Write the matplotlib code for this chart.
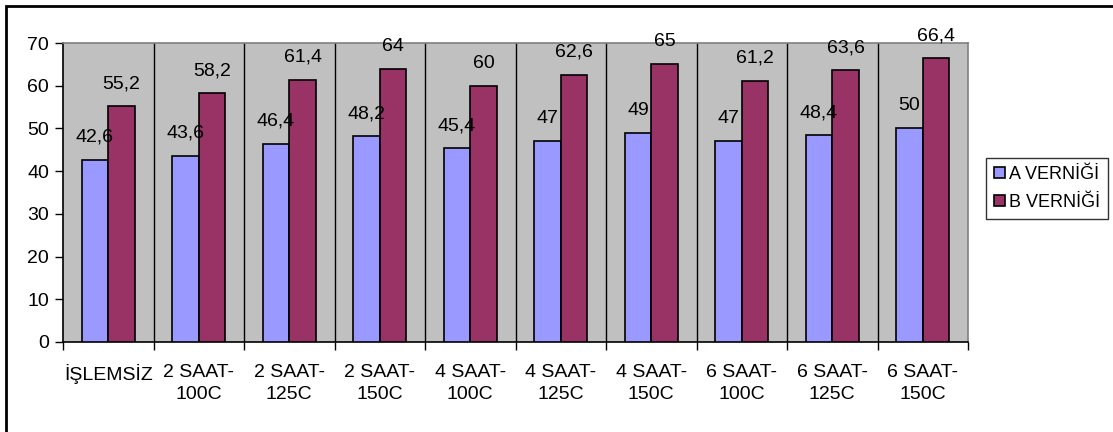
import numpy as np
import matplotlib.pyplot as plt
from matplotlib.patches import Rectangle

plt.rcParams['font.family'] = ['Liberation Sans', 'DejaVu Sans']

categories = ["İŞLEMSİZ", "2 SAAT-\n100C", "2 SAAT-\n125C", "2 SAAT-\n150C",
              "4 SAAT-\n100C", "4 SAAT-\n125C", "4 SAAT-\n150C",
              "6 SAAT-\n100C", "6 SAAT-\n125C", "6 SAAT-\n150C"]
a_vernigi = [42.6, 43.6, 46.4, 48.2, 45.4, 47, 49, 47, 48.4, 50]
b_vernigi = [55.2, 58.2, 61.4, 64, 60, 62.6, 65, 61.2, 63.6, 66.4]
series_names = ["A VERNİĞİ", "B VERNİĞİ"]

FS = 14


def fmt(v):
    # comma as decimal separator, like the source
    return ("%g" % v).replace(".", ",")


fig = plt.figure(figsize=(11.13, 4.32), dpi=100)
ax = fig.add_axes([63 / 1113, 1 - 342 / 432, (968 - 63) / 1113, (342 - 43) / 432])
ax.set_facecolor("#C0C0C0")

x = np.arange(len(categories))
w = 0.295
bars_a = ax.bar(x - w / 2, a_vernigi, w, color="#9999FF", edgecolor="black",
                linewidth=1.2, label=series_names[0], zorder=3)
bars_b = ax.bar(x + w / 2, b_vernigi, w, color="#993366", edgecolor="black",
                linewidth=1.2, label=series_names[1], zorder=3)

for bars, vals in ((bars_a, a_vernigi), (bars_b, b_vernigi)):
    for b, v in zip(bars, vals):
        ax.annotate(fmt(v), (b.get_x() + b.get_width() / 2, v),
                    xytext=(0, 13), textcoords="offset points",
                    ha="center", va="baseline", fontsize=FS, zorder=4)

ax.set_xlim(-0.5, len(categories) - 0.5)
ax.set_ylim(0, 70)
ax.set_yticks(np.arange(0, 71, 10))
ax.tick_params(axis="y", length=6, width=1, direction="out", labelsize=FS, pad=4)

# category boundaries: ticks + vertical grid lines
bounds = np.arange(-0.5, len(categories), 1.0)
ax.set_xticks(bounds)
ax.set_xticklabels([])
ax.set_xticks(x, minor=True)
ax.set_xticklabels(categories, minor=True, fontsize=FS, linespacing=1.4)
ax.tick_params(axis="x", which="major", length=6, width=1, direction="out")
ax.tick_params(axis="x", which="minor", length=0, pad=16)
for bx in bounds[1:-1]:
    ax.axvline(bx, color="black", linewidth=1, zorder=1)

for s in ("left", "bottom"):
    ax.spines[s].set_color("black")
    ax.spines[s].set_linewidth(1.2)
for s in ("top", "right"):
    ax.spines[s].set_color("#808080")
    ax.spines[s].set_linewidth(1.2)

leg = fig.legend(loc="upper left", bbox_to_anchor=(986 / 1113, 1 - 158 / 432),
                 fontsize=13, frameon=True, fancybox=False, edgecolor="black",
                 handlelength=0.6, handleheight=0.6, handletextpad=0.2,
                 borderpad=0.45, labelspacing=0.6, borderaxespad=0)
leg.get_frame().set_linewidth(1)

# outer chart frame (cut off at right and bottom in the source)
fig.patches.append(Rectangle((6 / 1113, -0.2), 1.2, 1 - 6 / 432 + 0.2,
                             transform=fig.transFigure, fill=False,
                             edgecolor="black", linewidth=2))

fig.savefig("out.png", dpi=100)
